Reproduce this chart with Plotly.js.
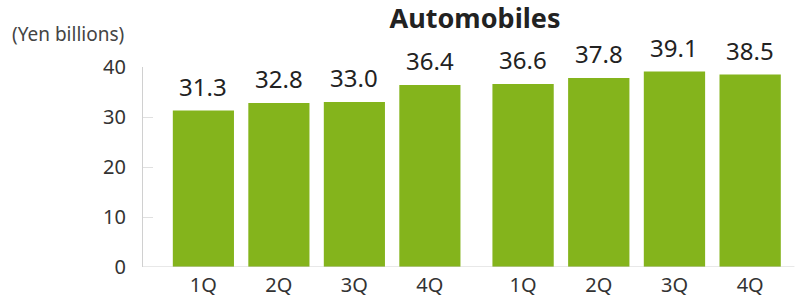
<!DOCTYPE html>
<html>
<head>
<meta charset="utf-8">
<script src="https://cdn.plot.ly/plotly-3.0.1.min.js"></script>
<style>html,body{margin:0;padding:0;background:#fff;}#chart{width:798px;height:300px;}</style>
</head>
<body>
<div id="chart"></div>
<script>
const quarters = ['1Q', '2Q', '3Q', '4Q'];
const valuesYear1 = [31.3, 32.8, 33.0, 36.4];
const valuesYear2 = [36.6, 37.8, 39.1, 38.5];
const yTicks = [0, 10, 20, 30, 40];
const chartTitle = 'Automobiles';
const unitLabel = '(Yen billions)';

const barColor = '#84b41c';
const fontFamily = '"Noto Sans", "Open Sans", sans-serif';

const traces = [
  {type: 'bar', x: quarters, y: valuesYear1, xaxis: 'x', yaxis: 'y',
   marker: {color: barColor}, hoverinfo: 'none'},
  {type: 'bar', x: quarters, y: valuesYear2, xaxis: 'x2', yaxis: 'y',
   marker: {color: barColor}, hoverinfo: 'none'}
];

const annotations = [];
[[valuesYear1, 'x'], [valuesYear2, 'x2']].forEach(([vals, xr]) => {
  vals.forEach((v, i) => {
    annotations.push({
      x: quarters[i], y: v, xref: xr, yref: 'y',
      text: v.toFixed(1), showarrow: false,
      yanchor: 'bottom', yshift: 6,
      font: {family: fontFamily, size: 24, color: '#222'}
    });
  });
});
annotations.push({
  xref: 'paper', yref: 'paper', x: (10 - 143) / 645, y: (267 - 34) / 200,
  xanchor: 'left', yanchor: 'middle', showarrow: false,
  text: unitLabel,
  font: {family: fontFamily, size: 19, color: '#444'}
});

const xAxisCommon = {
  type: 'category', showline: false, showgrid: false, zeroline: false,
  ticks: '', ticklabelstandoff: 4,
  tickfont: {family: fontFamily, size: 20, color: '#333'},
  fixedrange: true
};

const layout = {
  width: 798, height: 300,
  margin: {l: 143, r: 10, t: 67, b: 33},
  paper_bgcolor: '#fff', plot_bgcolor: '#fff',
  showlegend: false,
  bargap: 0.19,
  title: {
    text: '<b>' + chartTitle + '</b>',
    x: 475 / 798, xref: 'container', xanchor: 'center',
    y: 1 - 19 / 300, yref: 'container', yanchor: 'middle',
    font: {family: fontFamily, size: 27, color: '#222'}
  },
  xaxis: Object.assign({}, xAxisCommon, {domain: [0, 0.5033], range: [-0.8, 3.5], anchor: 'y'}),
  xaxis2: Object.assign({}, xAxisCommon, {domain: [0.5306, 1], range: [-0.5, 3.5], anchor: 'y'}),
  yaxis: {
    range: [0, 40], tickvals: yTicks, ticktext: yTicks.map(String),
    showgrid: false, zeroline: false,
    showline: true, linecolor: '#d0d0d0', linewidth: 1,
    ticks: 'inside', ticklen: 10, tickcolor: '#e0e0e0', tickwidth: 1,
    ticklabelstandoff: 12,
    tickfont: {family: fontFamily, size: 20, color: '#333'},
    fixedrange: true
  },
  shapes: [{
    type: 'line', xref: 'paper', yref: 'y', x0: 0, x1: 1.01, y0: 0, y1: 0,
    line: {color: '#d0d0d0', width: 1}
  }],
  annotations: annotations
};

Plotly.newPlot('chart', traces, layout, {staticPlot: true, displayModeBar: false});
</script>
</body>
</html>
